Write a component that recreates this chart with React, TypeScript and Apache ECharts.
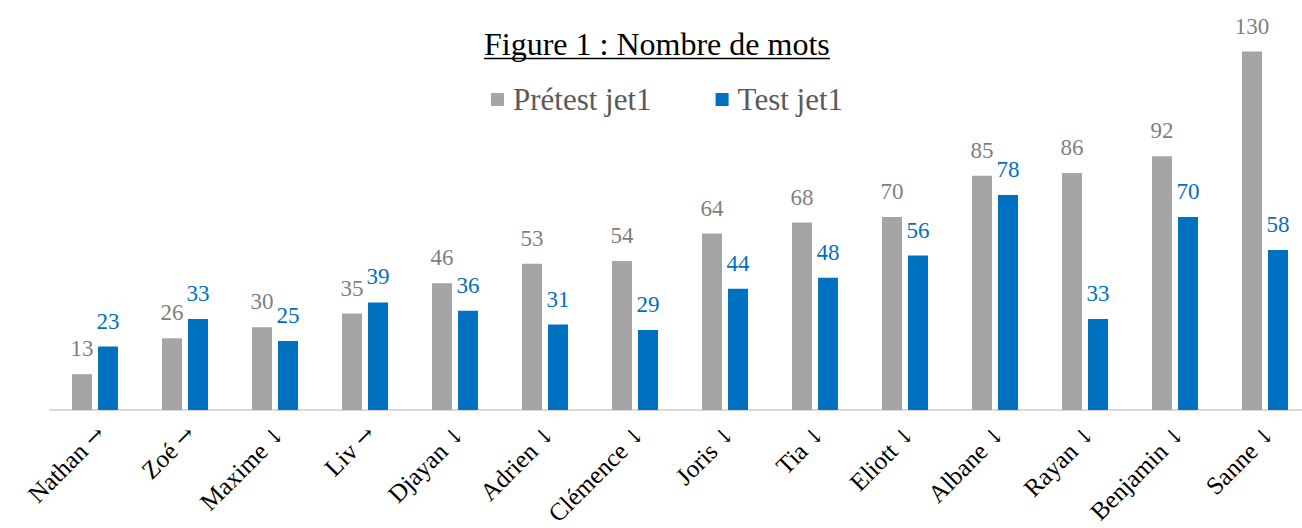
import React, { useEffect, useRef } from "react";
import * as echarts from "echarts";

const categories = [
  "Nathan →", "Zoé →", "Maxime ↓", "Liv →", "Djayan ↓", "Adrien ↓", "Clémence ↓",
  "Joris ↓", "Tia ↓", "Eliott ↓", "Albane ↓", "Rayan ↓", "Benjamin ↓", "Sanne ↓",
];
const pretest = [13, 26, 30, 35, 46, 53, 54, 64, 68, 70, 85, 86, 92, 130];
const test = [23, 33, 25, 39, 36, 31, 29, 44, 48, 56, 78, 33, 70, 58];

const FONT = "Liberation Serif";
const GRAY = "#A5A5A5";
const BLUE = "#0070C0";

function splitLabel(v: string) {
  const i = v.lastIndexOf(" ");
  return `{n|${v.slice(0, i)}} {a|${v.slice(i + 1)}}`;
}

export default function App() {
  const ref = useRef<HTMLDivElement>(null);
  useEffect(() => {
    if (!ref.current) return;
    const chart = echarts.init(ref.current, null, { renderer: "svg" });
    chart.setOption({
      animation: false,
      backgroundColor: "#fff",
      textStyle: { fontFamily: FONT },
      title: {
        text: "Figure 1 : Nombre de mots",
        left: 484,
        top: 28,
        padding: 0,
        textStyle: { fontFamily: FONT, fontSize: 32, fontWeight: "normal", color: "#000" },
      },
      graphic: [
        {
          type: "line",
          shape: { x1: 484, y1: 58.5, x2: 830, y2: 58.5 },
          style: { stroke: "#000", lineWidth: 1.5 },
        },
      ],
      legend: {
        left: 486,
        top: 79,
        icon: "rect",
        itemWidth: 13,
        itemHeight: 13,
        itemGap: 64,
        textStyle: {
          fontFamily: FONT,
          fontSize: 31,
          fontWeight: "normal",
          color: "#595959",
          padding: [0, 0, 0, 4],
        },
        data: ["Prétest jet1", "Test jet1"],
      },
      grid: {
        left: 50,
        top: 24,
        width: 1260,
        height: 386,
        containLabel: false,
        outerBoundsMode: "none",
      },
      xAxis: {
        type: "category",
        data: categories,
        axisLine: { lineStyle: { color: "#D9D9D9", width: 2 } },
        axisTick: { show: false },
        axisLabel: {
          rotate: 45,
          margin: 14,
          interval: 0,
          verticalAlign: "top",
          lineHeight: 16,
          fontFamily: FONT,
          fontSize: 25,
          color: "#000",
          formatter: splitLabel,
          rich: {
            n: { fontFamily: FONT, fontSize: 25, lineHeight: 16, color: "#000" },
            a: { fontFamily: "DejaVu Serif", fontSize: 22, lineHeight: 16, color: "#000" },
          },
        },
      },
      yAxis: {
        type: "value",
        min: 0,
        max: 140,
        interval: 20,
        show: false,
        splitLine: { show: false },
      },
      series: [
        {
          name: "Prétest jet1",
          type: "bar",
          data: pretest,
          barWidth: 20,
          barGap: "30%",
          itemStyle: { color: GRAY },
          label: {
            show: true,
            position: "top",
            distance: 14,
            fontFamily: FONT,
            fontSize: 23,
            fontWeight: "normal",
            color: "#7F7F7F",
          },
        },
        {
          name: "Test jet1",
          type: "bar",
          data: test,
          barWidth: 20,
          itemStyle: { color: BLUE },
          label: {
            show: true,
            position: "top",
            distance: 14,
            fontFamily: FONT,
            fontSize: 23,
            fontWeight: "normal",
            color: BLUE,
          },
        },
      ],
    });
    return () => chart.dispose();
  }, []);
  return (
    <div
      ref={ref}
      style={{ position: "absolute", left: 0, top: 0, width: 1302, height: 528 }}
    />
  );
}
